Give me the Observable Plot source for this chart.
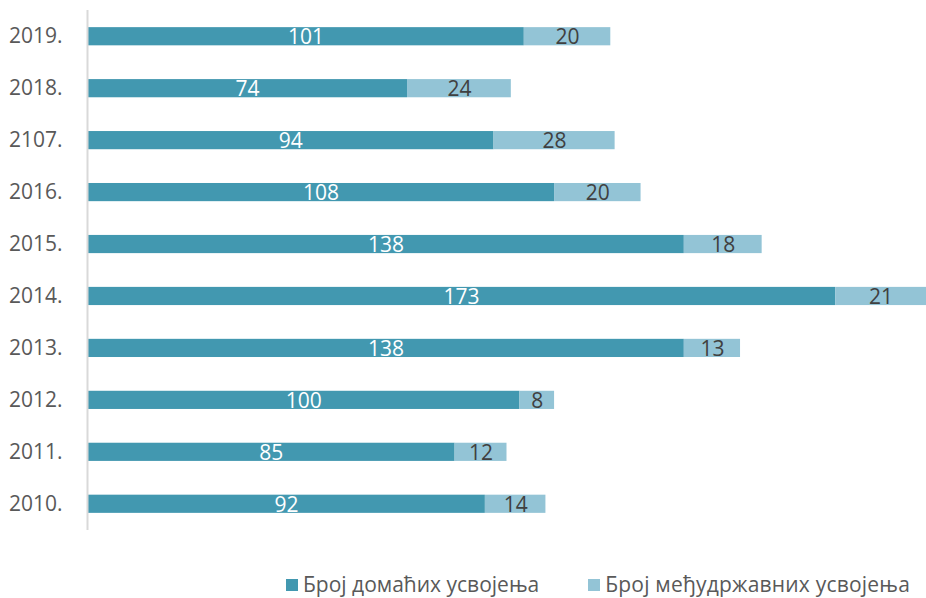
<!DOCTYPE html>
<html>
<head>
<meta charset="utf-8">
<script src="https://cdn.jsdelivr.net/npm/d3@7"></script>
<script src="https://cdn.jsdelivr.net/npm/@observablehq/plot@0.6"></script>
<style>
  html, body { margin: 0; padding: 0; background: #fff; }
  body { width: 926px; height: 598px; overflow: hidden; font-family: "Open Sans", sans-serif; }
  #legend { display: flex; position: absolute; top: 570px; left: 286px; font-size: 21px; line-height: 29px; color: #595959; }
  .item { display: flex; align-items: center; }
  .sw { width: 12px; height: 12px; margin-right: 5px; }
</style>
</head>
<body>
<div id="chart"></div>
<div id="legend"></div>
<script>
const years = ["2019.", "2018.", "2107.", "2016.", "2015.", "2014.", "2013.", "2012.", "2011.", "2010."];
const domestic = [101, 74, 94, 108, 138, 173, 138, 100, 85, 92];
const international = [20, 24, 28, 20, 18, 21, 13, 8, 12, 14];
const seriesNames = ["Број домаћих усвојења", "Број међудржавних усвојења"];
const colors = ["#4298b0", "#93c4d6"];
const labelColors = ["#ffffff", "#404040"];

const data = [];
years.forEach((y, i) => {
  data.push({year: y, series: seriesNames[0], value: domestic[i]});
  data.push({year: y, series: seriesNames[1], value: international[i]});
});

const chart = Plot.plot({
  width: 926,
  height: 550,
  marginLeft: 87,
  marginRight: 0,
  marginTop: 10,
  marginBottom: 20,
  style: {fontFamily: "Open Sans, sans-serif", fontSize: "21px", background: "#fff"},
  x: {domain: [0, 194], axis: null},
  y: {domain: years, paddingInner: 0.65, paddingOuter: 0.33, round: false, label: null},
  color: {domain: seriesNames, range: colors},
  marks: [
    Plot.barX(data, Plot.stackX({x: "value", y: "year", fill: "series", z: "series"})),
    Plot.ruleX([0], {stroke: "#d9d9d9", strokeWidth: 2}),
    Plot.textX(data, Plot.stackX({x: "value", y: "year", z: "series", text: d => String(d.value),
      fill: d => d.series === seriesNames[0] ? labelColors[0] : labelColors[1], fontSize: 21, dy: 1})),
    Plot.axisY({tickSize: 0, tickPadding: 25, fontSize: 21, color: "#595959", label: null})
  ]
});
document.getElementById("chart").appendChild(chart);

const legend = document.getElementById("legend");
seriesNames.forEach((name, i) => {
  const item = document.createElement("div");
  item.className = "item";
  if (i > 0) item.style.marginLeft = "49px";
  const sw = document.createElement("span");
  sw.className = "sw";
  sw.style.background = colors[i];
  const t = document.createElement("span");
  t.textContent = name;
  if (i > 0) t.style.letterSpacing = "0.2px";
  item.appendChild(sw);
  item.appendChild(t);
  legend.appendChild(item);
});
</script>
</body>
</html>
